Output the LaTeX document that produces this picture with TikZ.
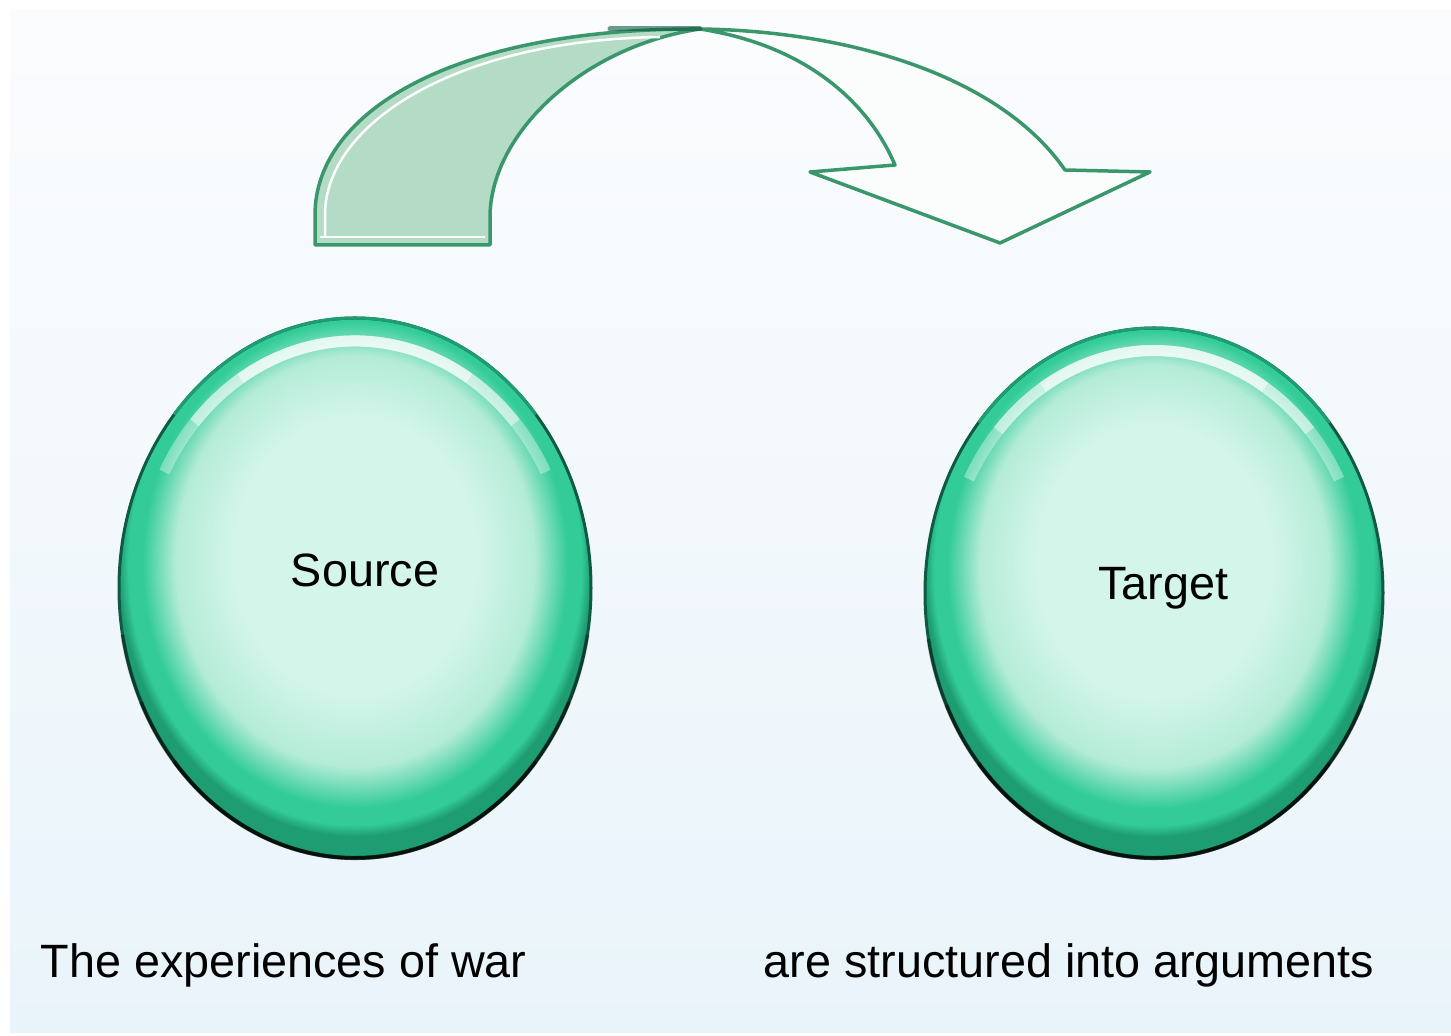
\documentclass[tikz,border=0pt]{standalone}
\usepackage{fontspec}
\setmainfont{Liberation Sans}
\usetikzlibrary{shapes.geometric}
\definecolor{mintin}{HTML}{D3F5EA}
\definecolor{mintmid}{HTML}{B4ECD7}
\definecolor{rimgreen}{HTML}{33CC99}
\definecolor{rimdeep}{HTML}{1E9C72}
\definecolor{rimdark}{HTML}{0F5A42}
\definecolor{bgtop}{HTML}{FBFCFE}
\definecolor{bgbot}{HTML}{E9F4FA}
\definecolor{arrowline}{HTML}{3A976B}
\definecolor{arrowfill}{HTML}{B3DBC6}
\pgfdeclareradialshading{bubble}{\pgfpoint{0bp}{4bp}}{color(0bp)=(mintin); color(13bp)=(mintin); color(19bp)=(mintmid); color(22.5bp)=(rimgreen); color(24bp)=(rimgreen); color(25bp)=(rimdeep); color(50bp)=(rimdeep)}
\begin{document}
\begin{tikzpicture}
\tikzstyle{bubble}=[ellipse,shading=bubble,draw=rimdark,line width=0.03cm,inner sep=0pt]
\tikzstyle{word}=[font=\fontsize{13.3pt}{16pt}\selectfont,inner sep=0pt]
\tikzstyle{band}=[draw=arrowline,line width=0.035cm,line join=round]

% background
\fill[white] (0,0) rectangle (14.51,10.36);
\fill[top color=bgtop,bottom color=bgbot] (0.10,0.03) rectangle (14.51,10.26);

% the two bubbles
\node[bubble,minimum width=4.72cm,minimum height=5.40cm] (src) at (3.55,4.48) {};
\node[bubble,minimum width=4.58cm,minimum height=5.30cm] (tgt) at (11.54,4.43) {};

\foreach \n/\rx/\ry in {src/2.36/2.70,tgt/2.29/2.65}{
  \foreach \a/\o in {28/0.35,42/0.45,58/0.5}
    \draw[white,line width=0.11cm,opacity=\o] ([shift={(\a:0.915*\rx cm and 0.915*\ry cm)}]\n.center) arc[start angle=\a,end angle=180-\a,x radius=0.915*\rx cm,y radius=0.915*\ry cm];
  \draw[rimdeep,line width=0.03cm] ([shift={(40:\rx cm and \ry cm)}]\n.center) arc[start angle=40,end angle=140,x radius=\rx cm,y radius=\ry cm];
  \foreach \a/\o in {190/0.3,205/0.4,220/0.5}
    \draw[black,line width=0.04cm,opacity=\o] ([shift={(\a:\rx cm and \ry cm)}]\n.center) arc[start angle=\a,end angle=540-\a,x radius=\rx cm,y radius=\ry cm];
}

\node[word,anchor=base] (srcname) at ([shift={(0.10,0.01)}]src.center) {Source};
\node[word,anchor=base] (tgtname) at ([shift={(0.09,-0.07)}]tgt.center) {Target};

% curved block arrow
\fill[band,fill=arrowfill] (3.15,7.91) -- (3.15,8.21) .. controls (3.15,9.25) and (4.55,10.08) .. (7.00,10.07)
  .. controls (5.85,9.90) and (4.92,9.05) .. (4.90,8.21) -- (4.90,7.91) -- cycle;
\draw[white,line width=0.025cm] (3.25,7.98) -- (3.25,8.21) .. controls (3.25,9.12) and (4.55,9.96) .. (6.60,9.99);
\draw[white,line width=0.025cm] (3.20,7.99) -- (4.85,7.99);
\fill[band,fill=white!94!arrowfill] (7.00,10.07) .. controls (8.50,10.05) and (10.00,9.60) .. (10.65,8.66)
  -- (11.50,8.64) -- (10.00,7.93) -- (8.10,8.64) -- (8.95,8.71)
  .. controls (8.70,9.30) and (8.10,9.90) .. (7.00,10.07) -- cycle;
\draw[rimdark,line width=0.05cm,opacity=0.6,line cap=round] (6.10,10.07) -- (7.00,10.07);

% captions
\node[word,anchor=base west] (srctext) at (0.40,0.58) {The experiences of war};
\node[word,anchor=base west] (tgttext) at (7.63,0.58) {are structured into arguments};
\end{tikzpicture}
\end{document}
